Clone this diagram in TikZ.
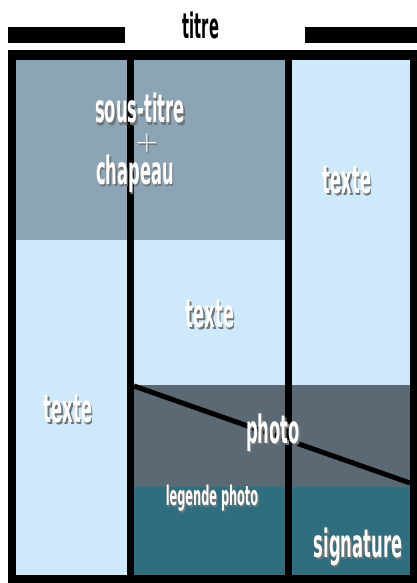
\documentclass[tikz,border=0pt]{standalone}
\usepackage{fontspec}
\newfontfamily\condfont[FakeStretch=0.42]{DejaVu Sans}
\definecolor{topgray}{RGB}{139,164,182}
\definecolor{paleblue}{RGB}{205,233,251}
\definecolor{photogray}{RGB}{91,105,117}
\definecolor{legteal}{RGB}{46,110,126}
% white text with a dark drop shadow
\newcommand\shtxt[1]{\makebox[0pt][l]{\hspace{1.5pt}\raisebox{-2pt}{\textcolor{black!55}{#1}}}#1}

\begin{document}
\begin{tikzpicture}[x=1pt, y=-1pt,
	lab/.style={font=\condfont\bfseries\fontsize{39}{39}\selectfont, text=white, anchor=base, inner sep=0pt},
	small lab/.style={font=\condfont\bfseries\fontsize{27}{27}\selectfont}]
	\fill[white] (0,0) rectangle (417,583);
	\useasboundingbox (0,0) rectangle (417,583);
	% title bars and frame
	\fill[black] (8,27) rectangle (125,43);
	\fill[black] (305,27) rectangle (417,43);
	\node[font=\condfont\bfseries\fontsize{35}{35}\selectfont, anchor=base, inner sep=0pt] (titre) at (201,39) {titre};
	\fill[black] (8,50) rectangle (417,583);
	% columns
	\fill[topgray] (16,60) rectangle (127,240);
	\fill[topgray] (134,60) rectangle (285,240);
	\fill[paleblue] (16,240) rectangle (127,575);
	\fill[paleblue] (134,240) rectangle (285,385);
	\fill[paleblue] (292,60) rectangle (410,385);
	\fill[photogray] (134,385) rectangle (285,487);
	\fill[photogray] (292,385) rectangle (410,487);
	\fill[legteal] (134,487) rectangle (285,575);
	\fill[legteal] (292,487) rectangle (410,575);
	\draw[black, line width=5pt] (134,386) -- (410,483);
	% labels
	\foreach \n/\px/\py/\t in {soustitre/140/123/sous-titre, chapeau/135/184/chapeau, texteR/347/193/texte, texteM/210/327/texte, texteL/68/422/texte, photo/273/443/photo, signature/358/557/signature}{
		\node[lab] (\n) at (\px,\py) {\shtxt{\t}};
	}
	\node[lab, small lab] (legende) at (212,505) {\shtxt{legende photo}};
	\node[lab, font=\fontsize{30}{30}\selectfont] (plus) at (147,150) {\shtxt{+}};
\end{tikzpicture}
\end{document}
